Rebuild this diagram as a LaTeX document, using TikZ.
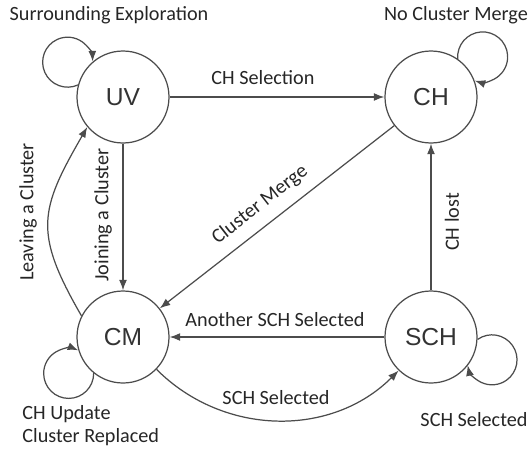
\documentclass[tikz,border=0pt]{standalone}
\usepackage{fontspec}
\setmainfont{Carlito}
\newfontfamily\arialfont{Liberation Sans}
\usetikzlibrary{arrows.meta}

\begin{document}
\begin{tikzpicture}[
		state/.style={circle, draw=black!70, line width=0.7pt, minimum size=1.84cm, inner sep=0pt, text=black!80, font={\arialfont\fontsize{14}{16}\selectfont}},
		tr/.style={draw=black!70, line width=0.7pt, -{Latex[length=6pt,width=4.5pt]}},
		lbl/.style={font={\fontsize{11.5}{13.5}\selectfont}, text=black!85, inner sep=0pt}]
	\useasboundingbox (0,0) rectangle (10.62,9.02);
	\node[state] (UV) at (2.46,7.08) {UV};
	\node[state] (CH) at (8.62,7.08) {CH};
	\node[state] (CM) at (2.46,2.28) {CM};
	\node[state] (SCH) at (8.62,2.28) {SCH};
	% transitions
	\draw[tr] (UV) -- (CH);
	\draw[tr] (UV) -- (CM);
	\draw[tr] (CM.153) to[out=120, in=240, looseness=1.3] (UV.220);
	\draw[tr] (CH) -- (CM);
	\draw[tr] (SCH) -- (CH);
	\draw[tr] (SCH) -- (CM);
	\draw[tr] (CM.-44) to[out=-45, in=225] (SCH.226);
	% self loops
	\draw[tr] (UV.165.5) arc[start angle=294.4, end angle=1.6, radius=0.5cm];
	\draw[tr] (CH.55.5) arc[start angle=184.4, end angle=-108.4, radius=0.5cm];
	\draw[tr] (CM.231.5) arc[start angle=360.4, end angle=67.6, radius=0.5cm];
	\draw[tr] (SCH.-3.5) arc[start angle=125.4, end angle=-167.4, radius=0.5cm];
	% labels
	\node[lbl] (lsel) at (5.26,7.46) {CH Selection};
	\node[lbl, rotate=90] (ljoin) at (2.06,4.72) {Joining a Cluster};
	\node[lbl, rotate=90] (lleave) at (0.56,4.78) {Leaving a Cluster};
	\node[lbl, rotate=38] (lmerge) at (5.20,4.92) {Cluster Merge};
	\node[lbl, rotate=90] (llost) at (9.04,4.58) {CH lost};
	\node[lbl] (lanother) at (5.50,2.62) {Another SCH Selected};
	\node[lbl] (lschsel) at (5.52,1.06) {SCH Selected};
	\node[lbl] (lsurr) at (2.18,8.72) {Surrounding Exploration};
	\node[lbl] (lnomerge) at (9.12,8.72) {No Cluster Merge};
	\node[lbl, anchor=west, align=left] (lupd) at (0.44,0.51) {CH Update\\Cluster Replaced};
	\node[lbl] (lschloop) at (9.48,0.62) {SCH Selected};
\end{tikzpicture}
\end{document}
